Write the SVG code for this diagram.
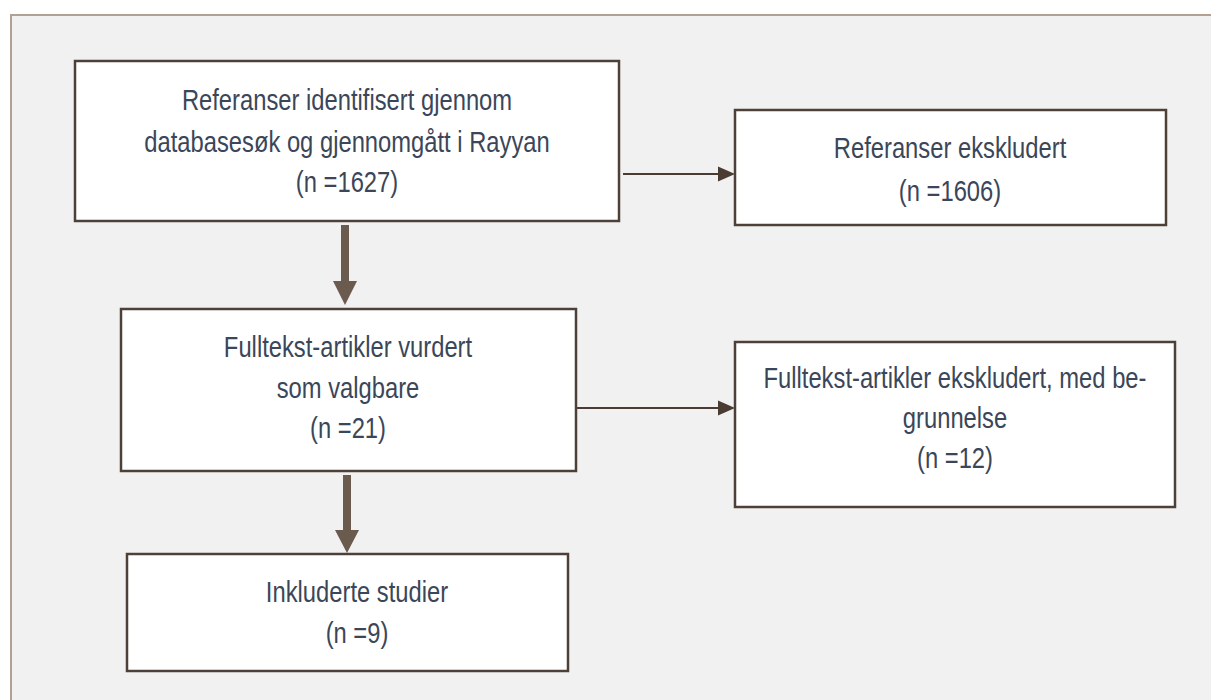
<svg xmlns="http://www.w3.org/2000/svg" width="1211" height="700" viewBox="0 0 1211 700">
<style>
.box{fill:#ffffff;stroke:#4d4039;stroke-width:2.5}
.t{font-family:"Liberation Sans",Arial,sans-serif;font-size:29px;fill:#3b4658;text-anchor:middle}
.thin{stroke:#4a3c33;stroke-width:2;fill:none}
.head{fill:#4a3c33}
.thick{fill:#6b5a4e}
</style>
<rect x="0" y="0" width="1211" height="700" fill="#ffffff"/>
<rect x="11" y="15" width="1240" height="720" fill="#f1f1f1" stroke="#b2a093" stroke-width="2"/>
<g id="connectors">
<line class="thin" x1="623" y1="174" x2="720" y2="174"/>
<polygon class="head" points="718,166.5 735,174 718,181.5"/>
<polygon class="thick" points="341,225 349,225 349,281 357,281 345,305 333,281 341,281"/>
<line class="thin" x1="569" y1="408" x2="720" y2="408"/>
<polygon class="head" points="718,400.5 735,408 718,415.5"/>
<polygon class="thick" points="343,475 351,475 351,530 359,530 347,553 335,530 343,530"/>
</g>
<g id="node1">
<rect class="box" x="75" y="61" width="544" height="160"/>
<text class="t" transform="translate(347 110) scale(0.82 1)">Referanser identifisert gjennom</text>
<text class="t" transform="translate(347 152) scale(0.82 1)">databasesøk og gjennomgått i Rayyan</text>
<text class="t" transform="translate(347 192) scale(0.82 1)">(n =1627)</text>
</g>
<g id="node2">
<rect class="box" x="735" y="110" width="431" height="115"/>
<text class="t" transform="translate(950 158) scale(0.82 1)">Referanser ekskludert</text>
<text class="t" transform="translate(950 201) scale(0.82 1)">(n =1606)</text>
</g>
<g id="node3">
<rect class="box" x="121" y="309" width="455" height="162"/>
<text class="t" transform="translate(348 357) scale(0.82 1)">Fulltekst-artikler vurdert</text>
<text class="t" transform="translate(348 398) scale(0.82 1)">som valgbare</text>
<text class="t" transform="translate(348 438) scale(0.82 1)">(n =21)</text>
</g>
<g id="node4">
<rect class="box" x="735" y="342" width="440" height="165"/>
<text class="t" transform="translate(955 388) scale(0.82 1)">Fulltekst-artikler ekskludert, med be-</text>
<text class="t" transform="translate(955 428) scale(0.82 1)">grunnelse</text>
<text class="t" transform="translate(955 468) scale(0.82 1)">(n =12)</text>
</g>
<g id="node5">
<rect class="box" x="127" y="554" width="441" height="117"/>
<text class="t" transform="translate(357 602) scale(0.82 1)">Inkluderte studier</text>
<text class="t" transform="translate(357 643) scale(0.82 1)">(n =9)</text>
</g>
</svg>
